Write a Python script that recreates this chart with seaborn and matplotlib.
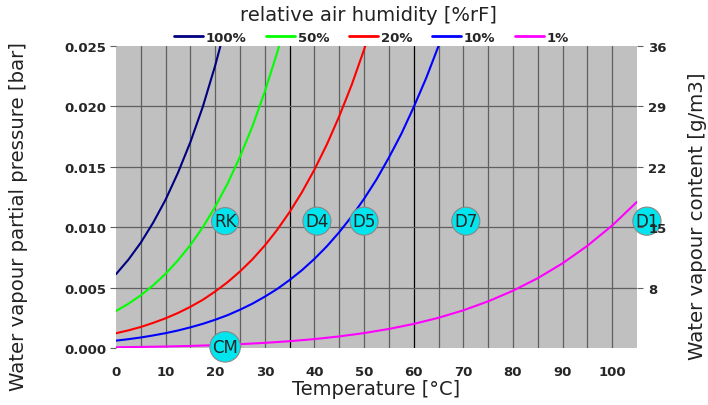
import pandas as pd
import numpy as np
import matplotlib
matplotlib.use("Agg")
import matplotlib.pyplot as plt
import seaborn as sns

# values (partial pressure in bar)
temps_fine = [0, 2.5, 5, 7.5, 10, 12.5, 15, 17.5, 20, 22.5, 25, 27.5, 30, 32.5, 35, 37.5, 40, 42.5,
              45, 47.5, 50, 52.5, 55, 57.5, 60, 62.5, 65]
temps_coarse = [0, 5, 10, 15, 20, 25, 30, 35, 40, 45, 50, 55, 60, 65, 70, 75, 80, 85, 90, 95, 100, 105]
rh_100 = [0.00611, 0.00731, 0.00872, 0.01038, 0.01228, 0.01451, 0.01705, 0.01997, 0.02339, 0.02724, 0.03169]
rh_50 = [0.00306, 0.00366, 0.00436, 0.00519, 0.00614, 0.00726, 0.00853, 0.00999, 0.0117, 0.01362, 0.01584,
         0.01835, 0.02123, 0.02447, 0.02814]
rh_20 = [0.00122, 0.00146, 0.00174, 0.00208, 0.00246, 0.0029, 0.00341, 0.00399, 0.00468, 0.00545, 0.00634,
         0.00734, 0.00849, 0.00979, 0.01126, 0.01291, 0.01477, 0.01685, 0.01919, 0.02178, 0.0247, 0.0279, 0.0315]
rh_10 = [0.00061, 0.00073, 0.00087, 0.00104, 0.00123, 0.00145, 0.00171, 0.002, 0.00234, 0.00272, 0.00317,
         0.00367, 0.00425, 0.00489, 0.00563, 0.00645, 0.00738, 0.00842, 0.00959, 0.01089, 0.01235, 0.01395,
         0.01576, 0.01772, 0.01994, 0.02233, 0.0250]
rh_1 = [0.000061, 0.000087, 0.000123, 0.000171, 0.000234, 0.000317, 0.000425, 0.000563, 0.000738, 0.000959,
        0.001235, 0.001576, 0.001994, 0.0025, 0.00312, 0.00386, 0.00474, 0.00578, 0.00701, 0.00846, 0.01014, 0.0121]

series_names = ['100%', '50%', '20%', '10%', '1%']
series_temps = [temps_fine, temps_fine, temps_fine, temps_fine, temps_coarse]
series_values = [rh_100, rh_50, rh_20, rh_10, rh_1]
series_colors = ['#000080', '#00FF00', '#FF0000', '#0000FF', '#FF00FF']

left_ticks = [0.000, 0.005, 0.010, 0.015, 0.020, 0.025]
right_ticks = [0.005, 0.010, 0.015, 0.020, 0.025]
right_labels = ['8', '15', '22', '29', '36']

markers = ['RK', 'D4', 'D5', 'D7', 'D1', 'CM']
marker_x = [22, 40.5, 50, 70.5, 107, 22]
marker_y = [0.0105, 0.0105, 0.0105, 0.0105, 0.0105, 0.0001]

rows = []
for name, ts, vals in zip(series_names, series_temps, series_values):
    for t, v in zip(ts, vals):
        rows.append({'Temperature': t, 'Pressure': v, 'RH': name})
df = pd.DataFrame(rows)

sns.set_style("white")
plt.rcParams['font.family'] = ['DejaVu Sans']

fig = plt.figure(figsize=(7.08, 4.06), dpi=100)
ax = fig.add_axes([0.1638, 0.1404, 0.7359, 0.7438])
ax.set_facecolor('#C0C0C0')

# grid
for x in range(5, 105, 5):
    c = 'black' if x in (35, 60) else '#606060'
    ax.axvline(x, color=c, linewidth=0.9, zorder=1)
for y in left_ticks[1:-1]:
    ax.axhline(y, color='#606060', linewidth=0.9, zorder=1)

sns.lineplot(data=df, x='Temperature', y='Pressure', hue='RH', hue_order=series_names,
             palette=dict(zip(series_names, series_colors)), linewidth=1.5, ax=ax, zorder=3)

ax.set_xlim(0, 105)
ax.set_ylim(0, 0.025)
ax.set_xticks(range(0, 101, 10))
ax.set_yticks(left_ticks)
ax.set_yticklabels([f'{v:.3f}' for v in left_ticks])
for lab in ax.get_xticklabels() + ax.get_yticklabels():
    lab.set_fontweight('bold')
    lab.set_fontsize(9.5)
ax.tick_params(axis='both', length=4, color='#606060', pad=3)
ax.tick_params(axis='x', pad=8)
for s in ax.spines.values():
    s.set_visible(False)

ax.set_xlabel('Temperature [°C]', fontsize=14, color='#222222', labelpad=1)
ax.set_ylabel('Water vapour partial pressure [bar]', fontsize=14.2, color='#222222')
ax.yaxis.set_label_coords(-0.169, 0.44)

ax2 = ax.twinx()
ax2.set_ylim(0, 0.025)
ax2.set_yticks(right_ticks)
ax2.set_yticklabels(right_labels, fontweight='bold', fontsize=9.5)
ax2.tick_params(axis='y', length=4, color='#606060', pad=4)
for s in ax2.spines.values():
    s.set_visible(False)
ax2.set_ylabel('Water vapour content [g/m3]', fontsize=14.2, color='#222222')
ax2.yaxis.set_label_coords(1.098, 0.44)

for m, mx, my in zip(markers, marker_x, marker_y):
    ax.text(mx, my, m, fontsize=12, ha='center', va='center', zorder=6, clip_on=False,
            bbox=dict(boxstyle='circle,pad=0.14', facecolor='#00E5EE', edgecolor='#888888', linewidth=0.8))

leg = ax.legend(loc='lower center', bbox_to_anchor=(0.49, 0.99), ncol=5, frameon=False,
                handlelength=2.2, handletextpad=0.2, columnspacing=1.5, borderaxespad=0,
                prop={'weight': 'bold', 'size': 9.5})
for line in leg.get_lines():
    line.set_linewidth(2)

fig.text(0.52, 0.962, 'relative air humidity [%rF]', ha='center', va='center', fontsize=14, color='#222222')

fig.savefig('out.png', dpi=100)
